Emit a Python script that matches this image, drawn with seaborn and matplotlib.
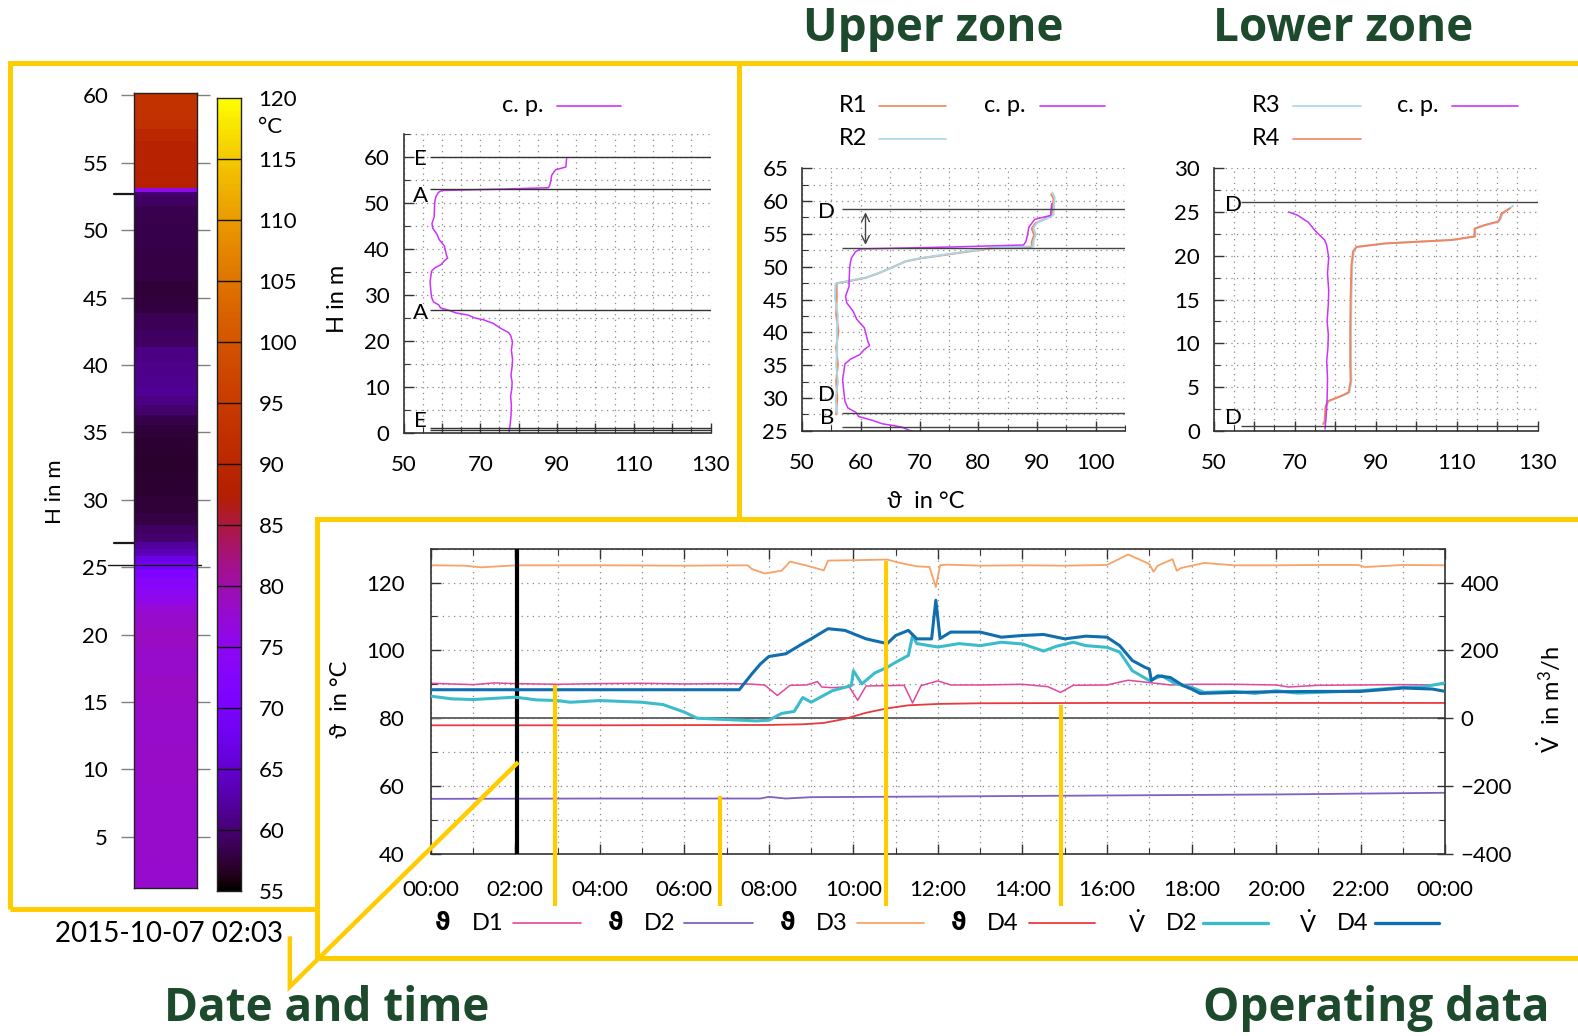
import numpy as np
import matplotlib
matplotlib.use('Agg')
import matplotlib.pyplot as plt
import matplotlib.transforms as mtransforms
from matplotlib.lines import Line2D
from matplotlib.ticker import MultipleLocator
import seaborn as sns

# ---------------- data ----------------
# characteristic profile (c. p.): height H in m, temperature in degC
cp_H = [59.6, 58.8, 57.8, 57.2, 56.0, 54.9, 53.8, 53.3, 53.0, 52.7, 52.3, 51.3, 50.5, 49.7,
        47.7, 47.0, 45.5, 44.5, 43.2, 42.0, 40.7, 39.7, 38.6, 38.0, 37.4, 36.6, 35.9, 35.2,
        34.0, 32.8, 31.0, 29.5, 28.5, 27.8, 27.2, 26.6, 26.1, 25.6, 25.0, 24.6, 23.8, 23.0,
        22.6, 21.8, 21.2, 19.8, 18.0, 16.0, 14.5, 12.5, 11.0, 9.5, 8.0, 6.0, 3.7, 2.0, 0.2]
cp_T = [92.5, 92.4, 92.3, 89.6, 88.6, 88.4, 88.1, 87.7, 75.6, 60.0, 59.1, 58.4, 58.2, 58.1,
        58.0, 58.0, 57.4, 57.6, 58.7, 59.3, 60.6, 60.9, 61.2, 61.5, 60.6, 59.8, 58.2, 57.3,
        57.1, 56.9, 57.1, 57.3, 57.8, 59.2, 59.6, 62.0, 63.6, 66.9, 68.5, 70.8, 73.4, 74.8,
        75.6, 77.4, 77.9, 78.4, 78.1, 78.4, 78.3, 78.0, 78.3, 78.2, 77.9, 78.1, 78.0, 77.8, 77.5]

# upper zone measurements
r1_H = [61.0, 60.4, 57.8, 57.3, 56.6, 55.8, 54.8, 53.8, 53.0, 52.8, 52.3, 51.8, 51.3, 50.8,
        50.0, 49.0, 48.3, 47.7, 47.5, 45.3, 42.7, 40.2, 37.7, 35.1, 32.6, 30.0, 27.5]
r1_T = [92.4, 92.8, 92.5, 91.4, 89.7, 89.1, 89.5, 89.1, 89.1, 82.3, 78.3, 74.4, 70.4, 67.6,
        65.6, 63.0, 60.8, 57.4, 55.9, 55.9, 55.8, 56.2, 55.8, 56.1, 55.8, 56.0, 55.8]
r2_H = [61.3, 60.5, 57.9, 57.4, 56.7, 55.9, 54.9, 53.9, 53.1, 52.9, 52.4, 51.9, 51.4, 50.9,
        50.1, 49.1, 48.4, 47.8, 47.4, 45.2, 42.6, 40.1, 37.6, 35.0, 32.5, 29.9, 27.6]
r2_T = [92.6, 93.0, 92.8, 91.8, 90.0, 89.4, 89.8, 89.4, 89.4, 82.6, 78.6, 74.8, 70.8, 67.9,
        65.9, 63.3, 61.1, 57.6, 55.7, 55.6, 56.1, 55.9, 56.0, 55.8, 56.1, 55.7, 56.0]

# lower zone measurements
r3_H = [25.7, 24.8, 24.2, 23.9, 23.5, 23.1, 22.2, 21.8, 21.4, 21.0, 20.5, 18.9, 15.2, 11.4,
        7.6, 5.7, 4.4, 4.0, 3.4, 2.8, 1.1, 0.8]
r3_T = [123.9, 121.3, 120.8, 120.4, 117.1, 114.6, 114.6, 108.9, 92.4, 85.4, 84.6, 84.2, 84.0,
        83.9, 83.9, 84.0, 83.5, 81.7, 78.4, 77.8, 77.6, 77.2]
r4_H = [25.4, 24.8, 24.2, 23.9, 23.5, 23.1, 22.2, 21.8, 21.4, 21.0, 20.5, 18.9, 15.2, 11.4,
        7.6, 5.7, 4.4, 4.0, 3.4, 2.8, 1.1, 0.8]
r4_T = [123.1, 121.0, 120.6, 120.2, 116.9, 114.4, 114.4, 108.7, 92.2, 85.2, 84.4, 84.0, 83.8,
        83.7, 83.7, 83.8, 83.3, 81.5, 78.2, 77.6, 77.4, 77.0]

# operating data (time in hours of the day)
d1_t = [0, 0.5, 1, 1.5, 2, 3, 4, 5, 6, 7, 7.5, 7.9, 8.2, 8.5, 8.9, 9.15, 9.25, 9.5, 9.9, 10.1,
        10.3, 10.8, 11.2, 11.4, 11.6, 12.0, 12.3, 13, 14, 14.6, 14.9, 15.2, 16, 16.5, 17.0,
        17.5, 18, 19, 20, 20.3, 21, 22, 23, 23.8, 24]
d1_T = [90.3, 90.1, 89.9, 90.4, 90.2, 90.0, 90.2, 90.3, 90.1, 90.2, 90.1, 89.8, 86.7, 89.7,
        89.8, 90.8, 89.2, 89.0, 89.3, 85.3, 89.5, 89.6, 89.7, 84.5, 89.6, 91.0, 89.8, 89.8,
        90.0, 89.3, 87.6, 89.7, 89.8, 91.2, 90.5, 89.8, 90.0, 90.0, 89.8, 89.2, 89.7, 89.8,
        89.9, 89.8, 90.5]
d2_t = [0, 4, 7.8, 8.0, 8.4, 9, 12, 16, 20, 24]
d2_T = [56.2, 56.3, 56.3, 56.8, 56.3, 56.7, 56.9, 57.2, 57.5, 58.0]
d3_t = [0, 0.8, 1.2, 2, 4, 6, 7.5, 7.6, 7.9, 8.3, 8.5, 8.9, 9.3, 9.4, 10.0, 10.8, 11.1, 11.5,
        11.8, 11.95, 12.05, 12.2, 13, 14, 15, 16, 16.5, 17.0, 17.1, 17.2, 17.55, 17.65, 17.75,
        18.3, 19, 20, 21, 21.95, 22.1, 23, 24]
d3_T = [125.1, 125.0, 124.5, 125.1, 125.1, 125.0, 125.1, 124.0, 122.7, 123.5, 126.2, 125.0,
        123.6, 126.5, 126.6, 126.8, 125.8, 124.8, 124.6, 118.7, 125.1, 125.3, 125.0, 125.1,
        125.0, 125.2, 128.3, 125.5, 123.2, 125.0, 126.9, 123.5, 124.3, 125.8, 125.1, 125.1,
        125.2, 125.2, 124.6, 125.2, 125.1]
d4_t = [0, 4, 8, 8.8, 9.3, 9.8, 10.3, 10.8, 11.3, 12, 13, 16, 20, 24]
d4_T = [77.9, 77.9, 78.0, 78.2, 78.6, 79.8, 81.6, 82.9, 83.8, 84.2, 84.4, 84.5, 84.5, 84.5]
vd2_t = [0, 0.5, 1, 2, 2.5, 3, 3.3, 4, 5, 5.5, 6, 6.3, 7, 7.7, 8, 8.3, 8.6, 8.8, 9.0, 9.5,
         9.95, 10.0, 10.2, 10.5, 10.8, 11.0, 11.3, 11.4, 11.5, 12, 12.5, 13, 13.5, 14, 14.5,
         14.8, 15.2, 15.5, 16, 16.3, 16.6, 17, 17.3, 17.6, 18, 18.3, 19, 19.5, 20, 20.5, 21,
         22, 23, 23.5, 24]
vd2_V = [65, 57, 55, 62, 54, 52, 47, 52, 47, 40, 18, 0, -4, -8, -6, 14, 20, 61, 47, 81, 96,
         140, 101, 133, 150, 165, 185, 244, 220, 210, 220, 214, 224, 219, 198, 212, 224, 214,
         209, 195, 140, 111, 125, 103, 91, 76, 79, 73, 81, 74, 76, 81, 91, 93, 104]
vd4_t = [0, 2, 4, 6, 7.3, 7.6, 7.8, 8.0, 8.4, 8.8, 9.0, 9.4, 9.8, 10.3, 10.8, 11.0, 11.3, 11.5,
         11.85, 11.95, 12.05, 12.3, 13.0, 13.5, 14.0, 14.5, 15.0, 15.5, 16.0, 16.3, 16.6, 16.9,
         17.0, 17.05, 17.2, 17.5, 17.8, 18.0, 18.2, 19, 20, 21, 22, 23, 23.7, 24]
vd4_V = [84, 84, 84, 84, 84, 131, 160, 182, 190, 220, 234, 264, 259, 234, 220, 244, 259, 234,
         234, 348, 235, 254, 254, 239, 244, 247, 234, 242, 239, 214, 170, 150, 145, 111, 125,
         120, 96, 86, 73, 76, 78, 79, 79, 89, 86, 79]

time_ticks = [f"{h % 24:02d}:00" for h in range(0, 25, 2)]
op_symbols = ['ϑ', 'ϑ', 'ϑ', 'ϑ', 'V', 'V']
op_names = ['D1', 'D2', 'D3', 'D4', 'D2', 'D4']
snapshot_time = 2.05
snapshot_label = '2015-10-07 02:03'

# ---------------- style ----------------
sns.set_theme(style='white')
plt.rcParams['font.family'] = ['Lato', 'DejaVu Sans']
plt.rcParams['mathtext.fontset'] = 'custom'
plt.rcParams['mathtext.rm'] = 'Lato'
plt.rcParams['mathtext.it'] = 'Lato:italic'
plt.rcParams['mathtext.bf'] = 'Lato:bold'
plt.rcParams['text.color'] = 'black'
plt.rcParams['xtick.labelcolor'] = 'black'
plt.rcParams['ytick.labelcolor'] = 'black'

GREEN = '#1d4a2c'
YEL = '#ffcc00'
C_CP = '#cc33ff'
C_R1 = '#f4845f'
C_R2 = '#a9d6e5'
C_D1 = '#e2479c'
C_D2 = '#7f62c0'
C_D3 = '#f8a266'
C_D4 = '#e8393f'
C_V2 = '#3cbccb'
C_V4 = '#116eae'
TICK = 16

W, H = 1568.0, 1029.0
fig = plt.figure(figsize=(15.78, 10.36), dpi=100)


def rect(l, t, r, b):
    return [l / W, 1 - b / H, (r - l) / W, (b - t) / H]


def fx(x):
    return x / W


def fy(y):
    return 1 - y / H


def gridstyle(ax):
    ax.grid(True, which='both', linestyle=(0, (1, 3.5)), color='#8a8a8a', linewidth=0.9)
    ax.set_axisbelow(True)


def profile_axes(ax):
    for s in ['top', 'right']:
        ax.spines[s].set_visible(False)
    for s in ['left', 'bottom']:
        ax.spines[s].set_color('#333333')
        ax.spines[s].set_linewidth(1.2)
    ax.tick_params(which='major', direction='in', length=7, width=1, color='#333333',
                   labelsize=TICK, left=True, bottom=True, labelcolor='black')
    ax.tick_params(which='minor', direction='in', length=4, width=0.8, color='#333333',
                   left=True, bottom=True)
    ax.tick_params(axis='x', pad=16)
    ax.tick_params(axis='y', pad=10)
    gridstyle(ax)
    ax.set_xlabel('')
    ax.set_ylabel('')


# ---------------- heat bar ----------------
axh = fig.add_axes(rect(133, 92, 196, 882))
Hs = np.array(cp_H)[::-1]
Ts = np.array(cp_T)[::-1]
edges = np.concatenate([[0.0], (Hs[:-1] + Hs[1:]) / 2, [60.2]])
axh.pcolormesh([0, 1], edges, Ts[:, None], cmap='gnuplot', vmin=55, vmax=120, shading='flat')
axh.set_ylim(1.2, 60.2)
axh.set_xlim(0, 1)
axh.set_xticks([])
axh.set_yticks(range(5, 61, 5))
axh.tick_params(axis='y', direction='out', length=9.5, width=1, color='#808080',
                left=True, right=True, labelleft=True, labelright=False, labelsize=TICK, pad=9,
                labelcolor='black')
for s in axh.spines.values():
    s.set_color('#222222')
    s.set_linewidth(1)
trh = mtransforms.blended_transform_factory(axh.transAxes, axh.transData)
axh.plot([-0.32, 0], [52.7, 52.7], color='k', lw=1.6, transform=trh, clip_on=False)
axh.plot([-0.32, 0], [26.8, 26.8], color='k', lw=1.6, transform=trh, clip_on=False)
axh.plot([-0.41, 1.06], [25.15, 25.15], color='k', lw=1.0, transform=trh, clip_on=False)
fig.text(fx(55), fy(488), 'H in m', rotation=90, ha='center', va='center', fontsize=TICK)

# colour scale
axc = fig.add_axes(rect(216, 97, 239, 885))
axc.imshow(np.linspace(55, 120, 400)[:, None], aspect='auto', cmap='gnuplot',
           extent=[0, 1, 55, 120], origin='lower', vmin=55, vmax=120)
axc.hlines(range(60, 120, 5), 0, 1, color='#111111', lw=1)
axc.set_xticks([])
axc.set_yticks(range(55, 121, 5))
axc.yaxis.tick_right()
axc.tick_params(axis='y', length=0, labelsize=TICK, pad=13, labelcolor='black')
for s in axc.spines.values():
    s.set_color('#222222')
    s.set_linewidth(1)
fig.text(fx(256), fy(126), '°C', ha='left', va='center', fontsize=TICK)

# ---------------- c. p. profile ----------------
axp = fig.add_axes(rect(401, 133, 706, 430))
sns.lineplot(x=cp_T, y=cp_H, sort=False, estimator=None, ax=axp, color=C_CP, lw=1.1)
axp.set_xlim(50, 130)
axp.set_ylim(0, 65)
axp.set_xticks(range(50, 131, 10))
axp.set_xticklabels([str(v) if (v - 50) % 20 == 0 else '' for v in range(50, 131, 10)])
axp.xaxis.set_minor_locator(MultipleLocator(5))
axp.set_yticks(range(0, 61, 10))
axp.yaxis.set_minor_locator(MultipleLocator(5))
profile_axes(axp)
for y in [60.0, 53.0, 26.8, 1.1, 0.6]:
    axp.hlines(y, 57, 130, color='#333333', lw=1.0, zorder=3)
for lab, y in [('E', 59.5), ('A', 51.6), ('A', 26.0), ('E', 2.6)]:
    axp.text(54.5, y, lab, ha='center', va='center', fontsize=TICK, zorder=4)
fig.text(fx(335), fy(297), 'H in m', rotation=90, ha='center', va='center', fontsize=17)

# ---------------- upper zone ----------------
axu = fig.add_axes(rect(797, 167, 1118, 428))
sns.lineplot(x=r1_T, y=r1_H, sort=False, estimator=None, ax=axu, color=C_R1, lw=1.4)
sns.lineplot(x=r2_T, y=r2_H, sort=False, estimator=None, ax=axu, color=C_R2, lw=1.4)
sns.lineplot(x=cp_T, y=cp_H, sort=False, estimator=None, ax=axu, color=C_CP, lw=1.1)
axu.set_xlim(50, 105)
axu.set_ylim(25, 65)
axu.set_xticks(range(50, 101, 10))
axu.xaxis.set_minor_locator(MultipleLocator(5))
axu.set_yticks(range(25, 66, 5))
axu.yaxis.set_minor_locator(MultipleLocator(2.5))
profile_axes(axu)
for y in [58.8, 52.8, 27.8, 25.6]:
    axu.hlines(y, 56.8, 105, color='#444444', lw=1.0, zorder=3)
axu.annotate('', xy=(60.8, 52.9), xytext=(60.8, 58.7),
             arrowprops=dict(arrowstyle='<->', color='#444444', lw=1.0, mutation_scale=14))
for lab, y in [('D', 58.3), ('D', 30.5), ('B', 26.9)]:
    axu.text(54.2, y, lab, ha='center', va='center', fontsize=TICK, zorder=4)
fig.text(fx(920), fy(498), 'ϑ  in °C', ha='center', va='center', fontsize=17)

# ---------------- lower zone ----------------
axl = fig.add_axes(rect(1206, 167, 1528, 428))
cp_low = [(t, h) for t, h in zip(cp_T, cp_H) if h <= 25.2]
sns.lineplot(x=r3_T, y=r3_H, sort=False, estimator=None, ax=axl, color=C_R2, lw=1.4)
sns.lineplot(x=r4_T, y=r4_H, sort=False, estimator=None, ax=axl, color=C_R1, lw=1.4)
sns.lineplot(x=[p[0] for p in cp_low], y=[p[1] for p in cp_low], sort=False,
             estimator=None, ax=axl, color=C_CP, lw=1.1)
axl.set_xlim(50, 130)
axl.set_ylim(0, 30)
axl.set_xticks(range(50, 131, 10))
axl.set_xticklabels([str(v) if (v - 50) % 20 == 0 else '' for v in range(50, 131, 10)])
axl.xaxis.set_minor_locator(MultipleLocator(5))
axl.set_yticks(range(0, 31, 5))
axl.yaxis.set_minor_locator(MultipleLocator(2.5))
profile_axes(axl)
for y in [26.1, 0.6]:
    axl.hlines(y, 56.8, 130, color='#444444', lw=1.0, zorder=3)
for lab, y in [('D', 25.8), ('D', 1.5)]:
    axl.text(54.8, y, lab, ha='center', va='center', fontsize=TICK, zorder=4)

# ---------------- operating data ----------------
axt = fig.add_axes(rect(428, 545, 1436, 848))
axt.axhline(80, color='#666666', lw=1.4, zorder=1)
sns.lineplot(x=d1_t, y=d1_T, sort=False, estimator=None, ax=axt, color=C_D1, lw=1.1)
sns.lineplot(x=d2_t, y=d2_T, sort=False, estimator=None, ax=axt, color=C_D2, lw=1.3)
sns.lineplot(x=d3_t, y=d3_T, sort=False, estimator=None, ax=axt, color=C_D3, lw=1.3)
sns.lineplot(x=d4_t, y=d4_T, sort=False, estimator=None, ax=axt, color=C_D4, lw=1.3)
axt.axvline(snapshot_time, color='black', lw=3, zorder=5)
axt.set_xlim(0, 24)
axt.set_ylim(40, 130)
axt.set_xticks(range(0, 25, 2))
axt.set_xticklabels(time_ticks)
axt.xaxis.set_minor_locator(MultipleLocator(1))
axt.set_yticks(range(40, 121, 20))
axt.yaxis.set_minor_locator(MultipleLocator(10))
gridstyle(axt)
axt.tick_params(which='major', direction='in', length=7, width=1, color='#333333',
                labelsize=TICK, left=True, bottom=True, top=True, labelcolor='black')
axt.tick_params(which='minor', direction='in', length=4, width=0.8, color='#333333',
                left=True, bottom=True, top=True)
axt.tick_params(axis='x', pad=19)
axt.tick_params(axis='y', pad=19)
axt.set_xlabel('')
axt.set_ylabel('')
for s in axt.spines.values():
    s.set_color('#333333')
    s.set_linewidth(1.2)

axv = axt.twinx()
sns.lineplot(x=vd2_t, y=vd2_V, sort=False, estimator=None, ax=axv, color=C_V2, lw=2.2)
sns.lineplot(x=vd4_t, y=vd4_V, sort=False, estimator=None, ax=axv, color=C_V4, lw=2.2)
axv.set_ylim(-400, 500)
axv.set_yticks(range(-400, 401, 200))
axv.yaxis.set_minor_locator(MultipleLocator(100))
axv.grid(False)
axv.tick_params(which='major', direction='inout', length=12, width=1, color='#333333',
                labelsize=TICK, right=True, pad=5, labelcolor='black')
axv.tick_params(which='minor', direction='in', length=4, width=0.8, color='#333333', right=True)
axv.set_ylabel('')
axv.set_xlabel('')
for s in axv.spines.values():
    s.set_visible(False)
fig.text(fx(338), fy(695), 'ϑ  in °C', rotation=90, ha='center', va='center', fontsize=17)
fig.text(fx(1540), fy(695), r'$\dot{\mathrm{V}}$  in m$^3$/h', rotation=90,
         ha='center', va='center', fontsize=17)


# ---------------- legends ----------------
def fline(x0, x1, y, color, lw):
    fig.add_artist(Line2D([fx(x0), fx(x1)], [fy(y), fy(y)], color=color, lw=lw,
                          transform=fig.transFigure))


def top_entry(x_text_right, y, x0, x1, color, label):
    fig.text(fx(x_text_right), fy(y), label, ha='right', va='center', fontsize=17)
    fline(x0, x1, y, color, 1.2)


top_entry(540, 105, 553, 617, C_CP, 'c. p.')
top_entry(862, 105, 873, 940, C_R1, 'R1')
top_entry(862, 138, 873, 940, C_R2, 'R2')
top_entry(1019, 105, 1033, 1098, C_CP, 'c. p.')
top_entry(1272, 105, 1285, 1352, C_R2, 'R3')
top_entry(1272, 138, 1285, 1352, C_R1, 'R4')
top_entry(1430, 105, 1443, 1508, C_CP, 'c. p.')

sym_x = [440, 612, 783, 953, 1130, 1300]
name_x = [469, 640, 811, 981, 1158, 1328]
line_x = [(510, 577), (680, 748), (852, 918), (1022, 1088), (1195, 1260), (1366, 1430)]
op_colors = [C_D1, C_D2, C_D3, C_D4, C_V2, C_V4]
op_lw = [1.2, 1.3, 1.3, 1.3, 2.4, 2.4]
for sx, nx, (l0, l1), sym, name, c, lw in zip(sym_x, name_x, line_x, op_symbols, op_names,
                                              op_colors, op_lw):
    if sym == 'V':
        fig.text(fx(sx), fy(917), r'$\dot{\mathrm{V}}$', ha='center', va='center', fontsize=17)
    else:
        fig.text(fx(sx), fy(917), sym, ha='center', va='center', fontsize=17,
                 fontweight='bold', family=['DejaVu Sans'])
    fig.text(fx(nx), fy(917), name, ha='left', va='center', fontsize=17)
    fline(l0, l1, 917, c, lw)


# ---------------- frames, callouts, headings ----------------
def yline(pts, lw=3.6):
    fig.add_artist(Line2D([fx(p[0]) for p in pts], [fy(p[1]) for p in pts], color=YEL,
                          lw=lw, transform=fig.transFigure, solid_capstyle='butt',
                          solid_joinstyle='miter'))


yline([(10, 903), (10, 63), (1570, 63)])
yline([(734, 63), (734, 515)])
yline([(10, 903), (315, 903)])
yline([(1570, 515), (315, 515), (315, 952), (1570, 952)])
yline([(288, 930), (288, 980), (515, 757)], lw=3.2)
for x, y0 in [(551, 680), (715, 791), (880, 557), (1054, 700)]:
    yline([(x, y0), (x, 900)], lw=3.0)

fig.text(fx(168), fy(928), snapshot_label, ha='center', va='center', fontsize=20)
for txt, x, y in [('Upper zone', 927, 28), ('Lower zone', 1335, 28),
                  ('Date and time', 325, 1002), ('Operating data', 1368, 1002)]:
    fig.text(fx(x), fy(y), txt, ha='center', va='center', fontsize=33, fontweight='bold',
             color=GREEN, family=['Open Sans', 'DejaVu Sans'])

fig.savefig('out.png', dpi=100)
